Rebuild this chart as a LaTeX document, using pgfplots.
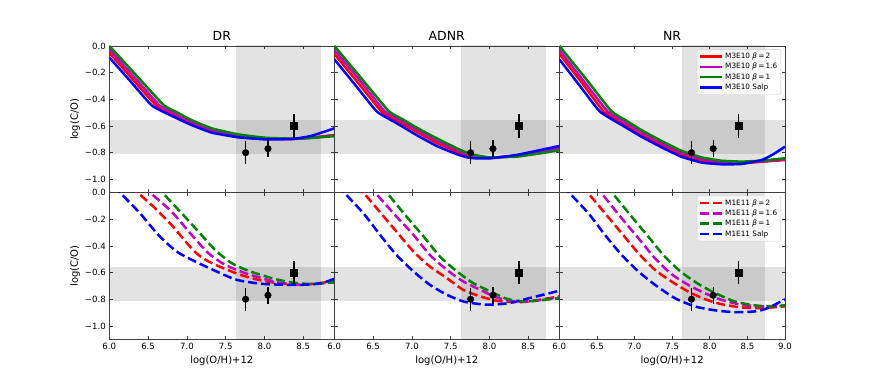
\documentclass[border=0pt]{standalone}
\usepackage{fontspec}
\setmainfont{DejaVu Sans}
\usepackage{pgfplots}
\pgfplotsset{compat=1.18}
\definecolor{mred}{rgb}{1,0,0}
\definecolor{mmag}{rgb}{0.75,0,0.75}
\definecolor{mgreen}{rgb}{0,0.5,0}
\definecolor{mblue}{rgb}{0,0,1}
\pgfplotsset{
  panel/.style={
    scale only axis, width=225pt, height=146.8pt,
    xmin=6, xmax=8.9, ymin=-1.1, ymax=0,
    axis line style={line width=0.7pt, black!75},
    tick align=inside, xtick pos=both, ytick pos=both,
    major tick length=3.5pt,
    tick style={line width=0.7pt, black!75},
    xtick={6,6.5,7,7.5,8,8.5},
    xticklabels={6.0,6.5,7.0,7.5,8.0,8.5},
    ytick={-1,-0.8,-0.6,-0.4,-0.2,0},
    yticklabels={−1.0,−0.8,−0.6,−0.4,−0.2,0.0},
    tick label style={font=\fontsize{8.6}{10}\selectfont, black},
    clip mode=individual,
    title style={font=\fontsize{12.5}{14}\selectfont, yshift=-4pt},
    label style={font=\fontsize{10}{12}\selectfont},
    ylabel style={yshift=-2pt},
    legend cell align=left,
    legend style={at={(1,1)}, anchor=north east, xshift=-4pt, yshift=-3.3pt,
      font=\fontsize{7.3}{8.5}\selectfont, draw=black!20, rounded corners=2pt,
      fill=white, fill opacity=0.8, text opacity=1, inner sep=2pt,
      nodes={inner sep=1.6pt}},
    legend image code/.code={\draw[#1] (0pt,0pt) -- (22pt,0pt);},
  },
  noxl/.style={xticklabels={}},
  noyl/.style={yticklabels={}},
  sc/.style={line width=2.5pt, smooth, tension=0.25},
  dc/.style={line width=2.5pt, dash pattern=on 9pt off 4pt, smooth, tension=0.45},
  band/.style={draw=none, fill=black, fill opacity=0.11, forget plot},
  obs/.style={forget plot, only marks, black,
    error bars/y dir=both, error bars/y explicit, error bars/error mark=none,
    error bars/error bar style={line width=1.2pt, black}},
}
\newcommand{\shades}{%
  \addplot[band] coordinates {(7.63,-1.2) (8.73,-1.2) (8.73,0.1) (7.63,0.1)} -- cycle;
  \addplot[band] coordinates {(5.9,-0.813) (9.1,-0.813) (9.1,-0.557) (5.9,-0.557)} -- cycle;
}
\newcommand{\points}{%
  \addplot[obs, mark=*, mark size=3.3pt] coordinates {(7.757,-0.80) +- (0,0.087) (8.045,-0.77) +- (0,0.063)};
  \addplot[obs, mark=square*, mark size=3.6pt] coordinates {(8.38,-0.60) +- (0,0.088)};
}
\begin{document}
\begin{tikzpicture}
\path (0pt,0pt) rectangle (872pt,382pt);

% ---------- top row: M3E10 ----------
\begin{axis}[panel, noxl, at={(109.3pt,189.3pt)}, anchor=south west,
  title={DR}, ylabel={log(C/O)}]
\shades
\addplot[sc, mred] coordinates {(6.0,-0.052) (6.3,-0.249) (6.61,-0.450) (6.83,-0.518) (7.06,-0.578) (7.32,-0.636) (7.66,-0.676) (8.0,-0.695) (8.35,-0.698) (8.6,-0.688) (8.9,-0.668)};
\addplot[sc, mmag] coordinates {(6.0,-0.027) (6.33,-0.24) (6.65,-0.447) (6.86,-0.512) (7.06,-0.568) (7.32,-0.628) (7.66,-0.670) (8.0,-0.692) (8.35,-0.697) (8.6,-0.688) (8.9,-0.672)};
\addplot[sc, mgreen] coordinates {(6.0,0.0) (6.35,-0.222) (6.70,-0.443) (6.88,-0.50) (7.06,-0.556) (7.32,-0.618) (7.66,-0.663) (8.0,-0.688) (8.35,-0.695) (8.6,-0.69) (8.9,-0.676)};
\addplot[sc, mblue] coordinates {(6.0,-0.087) (6.28,-0.27) (6.55,-0.448) (6.8,-0.523) (7.06,-0.593) (7.32,-0.650) (7.66,-0.685) (8.0,-0.700) (8.35,-0.698) (8.6,-0.675) (8.9,-0.618)};
\points
\end{axis}

\begin{axis}[panel, noxl, noyl, at={(334.3pt,189.3pt)}, anchor=south west,
  title={ADNR}]
\shades
\addplot[sc, mred] coordinates {(6.0,-0.06) (6.3,-0.272) (6.61,-0.492) (6.83,-0.567) (7.06,-0.643) (7.32,-0.727) (7.58,-0.793) (7.75,-0.828) (8.0,-0.84) (8.35,-0.822) (8.6,-0.795) (8.9,-0.762)};
\addplot[sc, mmag] coordinates {(6.0,-0.03) (6.33,-0.26) (6.65,-0.49) (6.86,-0.56) (7.06,-0.627) (7.32,-0.71) (7.58,-0.78) (7.75,-0.82) (8.0,-0.838) (8.35,-0.825) (8.6,-0.80) (8.9,-0.77)};
\addplot[sc, mgreen] coordinates {(6.0,0.0) (6.35,-0.244) (6.70,-0.488) (6.88,-0.55) (7.06,-0.612) (7.32,-0.693) (7.58,-0.767) (7.75,-0.81) (8.0,-0.835) (8.35,-0.83) (8.6,-0.81) (8.9,-0.782)};
\addplot[sc, mblue] coordinates {(6.0,-0.10) (6.28,-0.30) (6.55,-0.493) (6.8,-0.578) (7.06,-0.668) (7.32,-0.75) (7.58,-0.812) (7.75,-0.84) (8.0,-0.843) (8.35,-0.817) (8.6,-0.787) (8.9,-0.75)};
\points
\end{axis}

\begin{axis}[panel, noxl, noyl, xmax=9, width=225.7pt, at={(559.3pt,189.3pt)}, anchor=south west,
  title={NR}]
\shades
\addplot[sc, mred] coordinates {(6.0,-0.06) (6.3,-0.276) (6.59,-0.492) (6.83,-0.578) (7.09,-0.665) (7.36,-0.745) (7.62,-0.815) (7.89,-0.862) (8.15,-0.88) (8.42,-0.88) (8.69,-0.868) (9.0,-0.855)};
\addlegendentry{M3E10 {\itshape β}\,=\,2}
\addplot[sc, mmag] coordinates {(6.0,-0.03) (6.32,-0.26) (6.64,-0.49) (6.85,-0.567) (7.09,-0.648) (7.36,-0.73) (7.62,-0.80) (7.89,-0.848) (8.15,-0.87) (8.42,-0.873) (8.69,-0.865) (9.0,-0.85)};
\addlegendentry{M3E10 {\itshape β}\,=\,1.6}
\addplot[sc, mgreen] coordinates {(6.0,0.0) (6.35,-0.244) (6.69,-0.488) (6.87,-0.553) (7.09,-0.63) (7.36,-0.713) (7.62,-0.785) (7.89,-0.835) (8.15,-0.86) (8.42,-0.867) (8.69,-0.86) (9.0,-0.842)};
\addlegendentry{M3E10 {\itshape β}\,=\,1}
\addplot[sc, mblue] coordinates {(6.0,-0.10) (6.27,-0.297) (6.54,-0.493) (6.83,-0.593) (7.09,-0.68) (7.36,-0.76) (7.62,-0.83) (7.89,-0.874) (8.15,-0.887) (8.42,-0.885) (8.69,-0.855) (8.85,-0.81) (9.0,-0.755)};
\addlegendentry{M3E10 Salp}
\points
\end{axis}

% ---------- bottom row: M1E11 ----------
\begin{axis}[panel, at={(109.3pt,42.7pt)}, anchor=south west,
  xlabel={log(O/H)+12}, ylabel={log(C/O)}]
\shades
\addplot[dc, mred] coordinates {(6.28,0.05) (6.365,0) (6.589,-0.117) (6.80,-0.242) (7.02,-0.392) (7.147,-0.467) (7.32,-0.529) (7.66,-0.611) (7.92,-0.654) (8.18,-0.679) (8.48,-0.691) (8.9,-0.666)};
\addplot[dc, mmag] coordinates {(6.44,0.05) (6.524,0) (6.80,-0.142) (7.06,-0.317) (7.276,-0.454) (7.49,-0.541) (7.75,-0.604) (8.006,-0.649) (8.22,-0.679) (8.48,-0.691) (8.9,-0.671)};
\addplot[dc, mgreen] coordinates {(6.60,0.05) (6.683,0) (6.932,-0.155) (7.147,-0.292) (7.362,-0.429) (7.576,-0.529) (7.79,-0.586) (8.09,-0.641) (8.35,-0.674) (8.607,-0.686) (8.9,-0.674)};
\addplot[dc, mblue] coordinates {(6.06,0.05) (6.137,0) (6.395,-0.155) (6.631,-0.317) (6.868,-0.442) (7.104,-0.516) (7.362,-0.586) (7.641,-0.654) (7.963,-0.684) (8.264,-0.691) (8.52,-0.691) (8.736,-0.679) (8.9,-0.646)};
\points
\end{axis}

\begin{axis}[panel, noyl, at={(334.3pt,42.7pt)}, anchor=south west,
  xlabel={log(O/H)+12}]
\shades
\addplot[dc, mred] coordinates {(6.29,0.05) (6.374,0) (6.589,-0.147) (6.80,-0.292) (7.02,-0.442) (7.23,-0.554) (7.45,-0.641) (7.66,-0.729) (7.88,-0.778) (8.09,-0.811) (8.31,-0.821) (8.52,-0.816) (8.9,-0.778)};
\addplot[dc, mmag] coordinates {(6.44,0.05) (6.524,0) (6.80,-0.18) (7.02,-0.317) (7.23,-0.467) (7.45,-0.579) (7.66,-0.666) (7.88,-0.729) (8.09,-0.786) (8.31,-0.816) (8.52,-0.816) (8.9,-0.786)};
\addplot[dc, mgreen] coordinates {(6.59,0.05) (6.674,0) (6.93,-0.18) (7.15,-0.329) (7.36,-0.479) (7.58,-0.591) (7.79,-0.679) (8.01,-0.741) (8.22,-0.796) (8.44,-0.816) (8.65,-0.808) (8.9,-0.791)};
\addplot[dc, mblue] coordinates {(6.04,0.05) (6.125,0) (6.374,-0.155) (6.589,-0.317) (6.80,-0.467) (7.02,-0.591) (7.23,-0.691) (7.45,-0.766) (7.66,-0.816) (7.83,-0.833) (8.01,-0.841) (8.26,-0.828) (8.52,-0.791) (8.9,-0.736)};
\points
\end{axis}

\begin{axis}[panel, noyl, xmax=9, width=225.7pt, at={(559.3pt,42.7pt)}, anchor=south west,
  xtick={6,6.5,7,7.5,8,8.5,9}, xticklabels={6.0,6.5,7.0,7.5,8.0,8.5,9.0},
  xlabel={log(O/H)+12}]
\shades
\addplot[dc, mred] coordinates {(6.29,0.05) (6.376,0) (6.606,-0.155) (6.827,-0.304) (7.05,-0.454) (7.27,-0.579) (7.49,-0.666) (7.71,-0.741) (7.93,-0.798) (8.15,-0.836) (8.42,-0.861) (8.69,-0.866) (9.0,-0.853)};
\addlegendentry{M1E11 {\itshape β}\,=\,2}
\addplot[dc, mmag] coordinates {(6.47,0.05) (6.553,0) (6.827,-0.192) (7.05,-0.342) (7.27,-0.492) (7.49,-0.611) (7.71,-0.691) (7.93,-0.753) (8.15,-0.803) (8.42,-0.841) (8.69,-0.853) (9.0,-0.846)};
\addlegendentry{M1E11 {\itshape β}\,=\,1.6}
\addplot[dc, mgreen] coordinates {(6.62,0.05) (6.70,0) (6.96,-0.18) (7.18,-0.329) (7.40,-0.479) (7.62,-0.596) (7.85,-0.686) (8.07,-0.753) (8.33,-0.816) (8.60,-0.846) (8.82,-0.853) (9.0,-0.846)};
\addlegendentry{M1E11 {\itshape β}\,=\,1}
\addplot[dc, mblue] coordinates {(6.05,0.05) (6.128,0) (6.385,-0.155) (6.606,-0.317) (6.827,-0.467) (7.05,-0.591) (7.27,-0.691) (7.535,-0.791) (7.80,-0.853) (8.07,-0.883) (8.33,-0.896) (8.60,-0.891) (8.77,-0.866) (9.0,-0.80)};
\addlegendentry{M1E11 Salp}
\points
\end{axis}
\end{tikzpicture}
\end{document}
